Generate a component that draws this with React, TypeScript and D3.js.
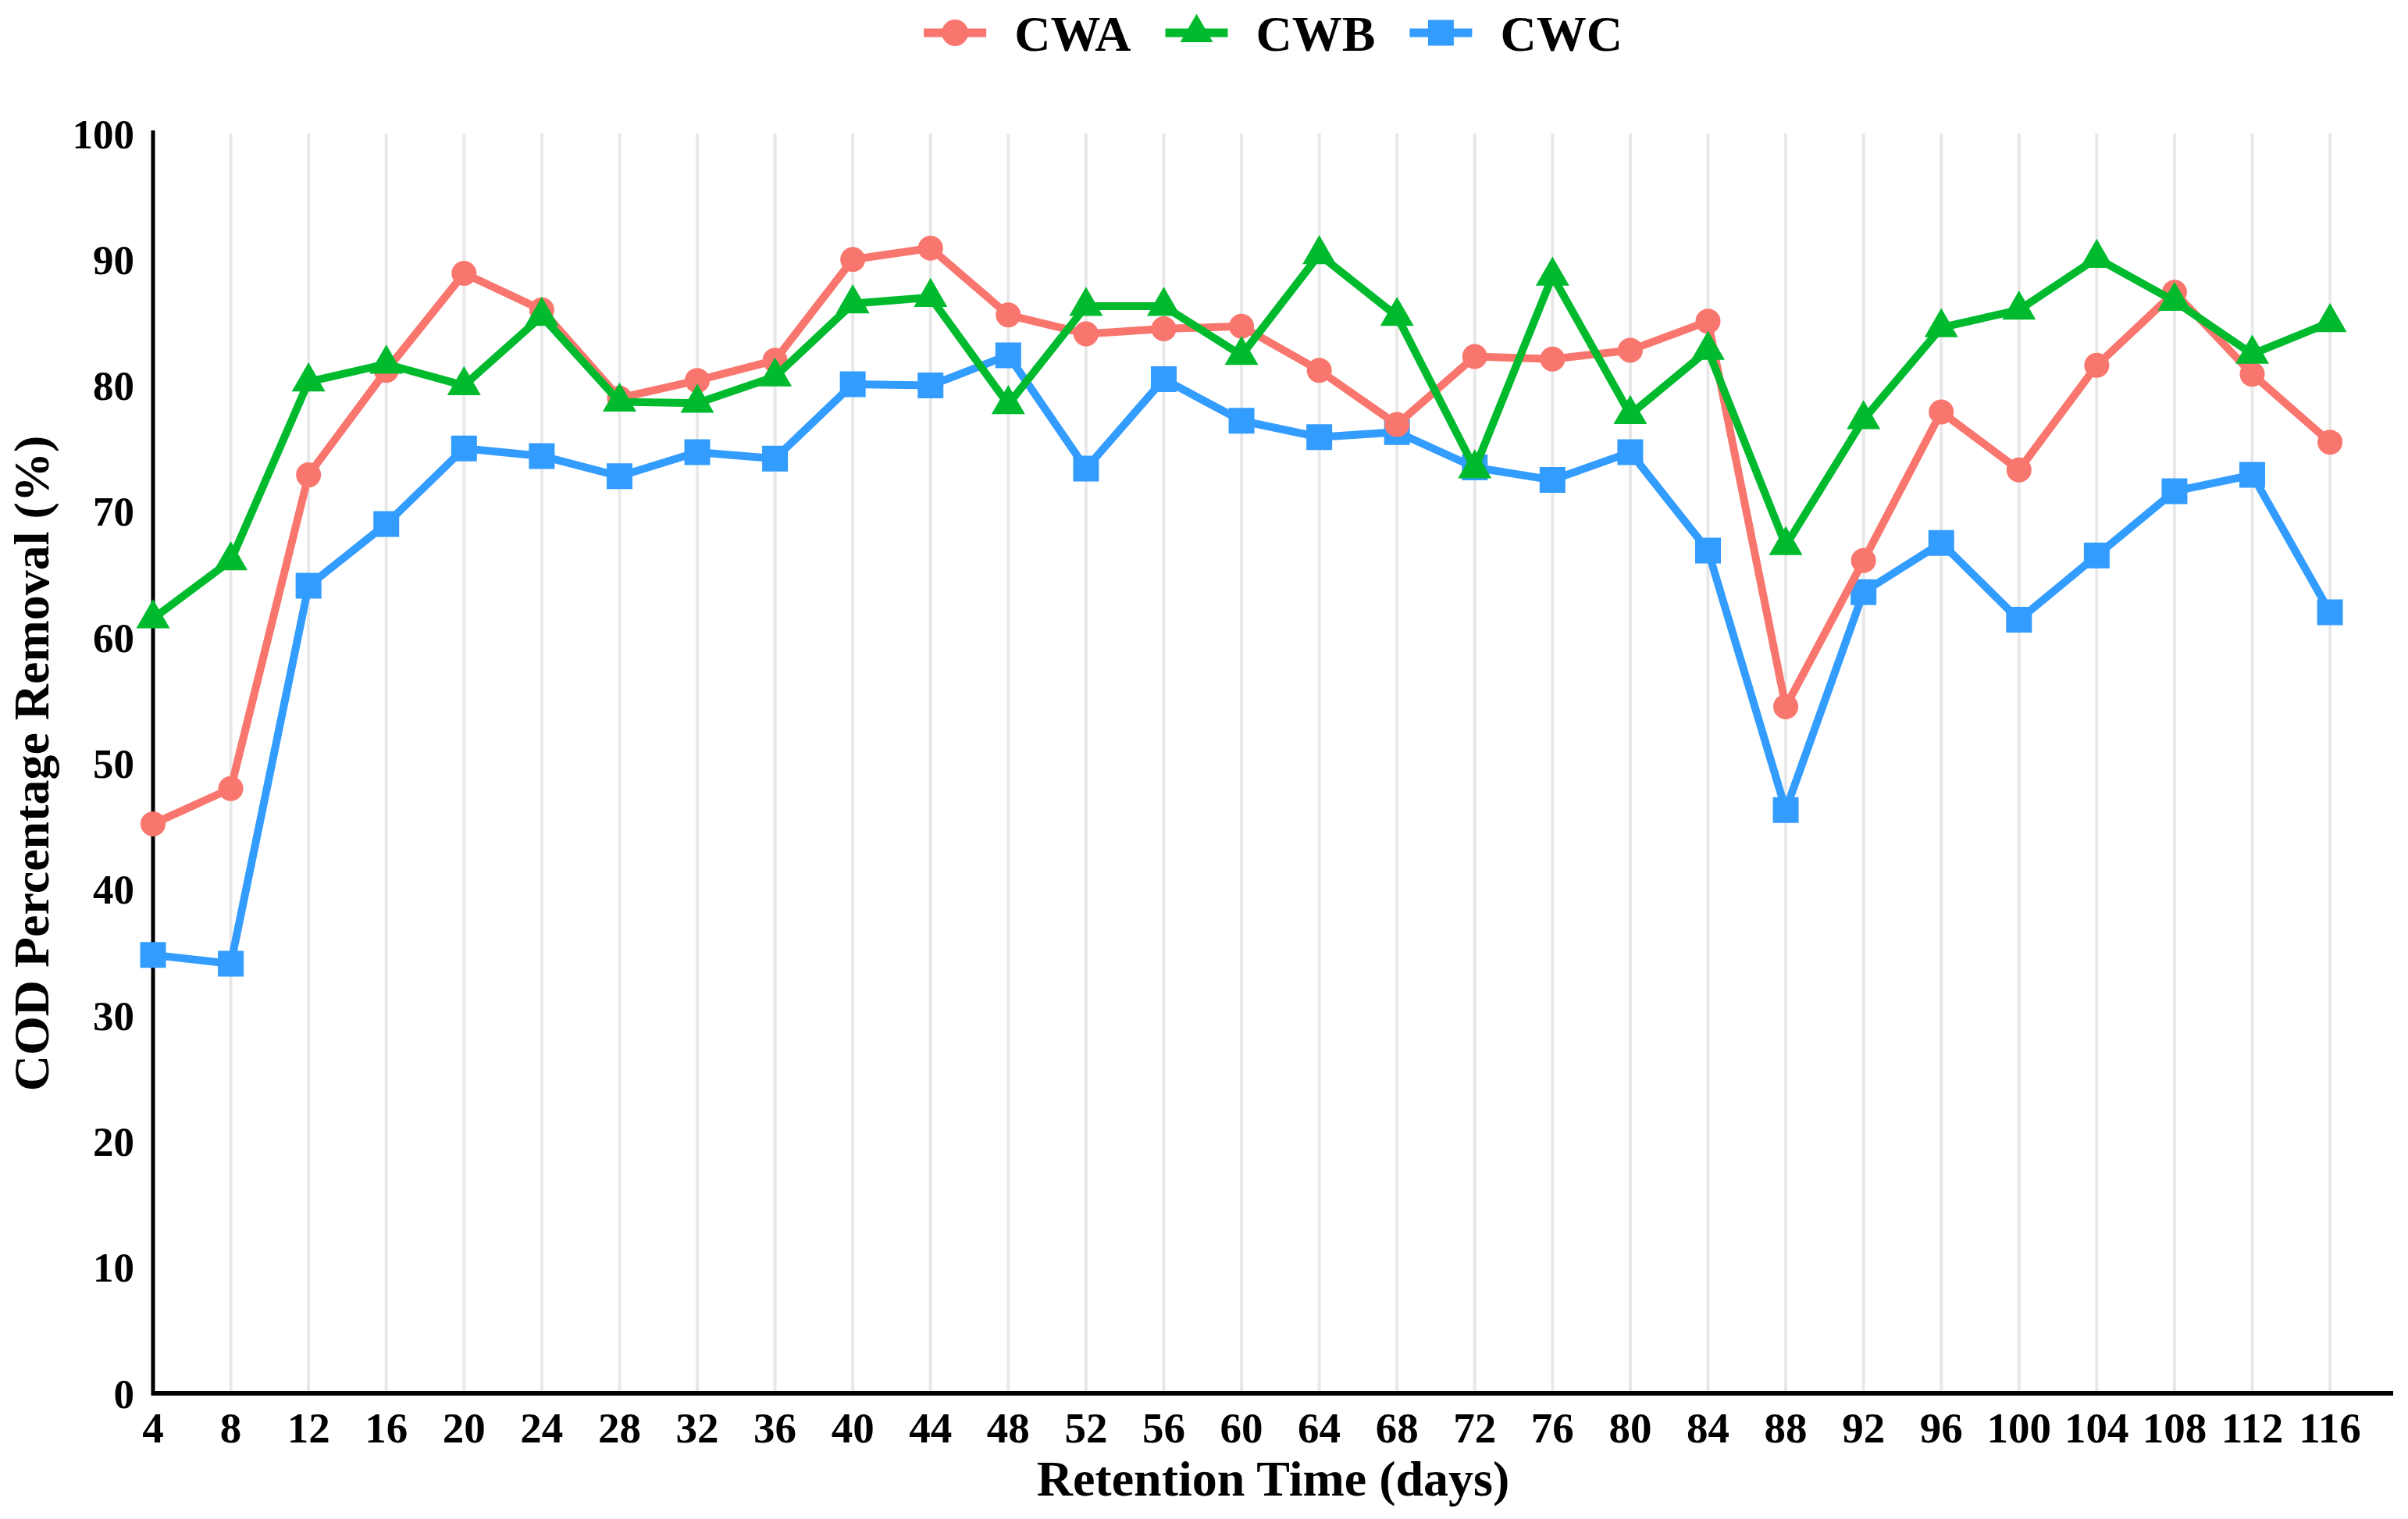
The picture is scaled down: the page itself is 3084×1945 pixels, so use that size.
import { useRef, useEffect } from 'react'
import * as d3 from 'd3'

// Retention time (days) and COD removal (%) for the three wetlands
const days = [4, 8, 12, 16, 20, 24, 28, 32, 36, 40, 44, 48, 52, 56, 60, 64, 68, 72, 76, 80, 84, 88, 92, 96, 100, 104, 108, 112, 116]
const cwa = [45.2, 48.0, 72.9, 81.2, 88.9, 86.0, 79.0, 80.4, 82.0, 90.0, 90.9, 85.6, 84.1, 84.5, 84.7, 81.2, 76.9, 82.3, 82.1, 82.8, 85.1, 54.5, 66.1, 77.9, 73.3, 81.6, 87.4, 80.9, 75.5]
const cwb = [61.5, 66.1, 80.3, 81.7, 80.0, 85.5, 78.7, 78.6, 80.7, 86.5, 87.0, 78.5, 86.3, 86.3, 82.4, 90.4, 85.5, 73.4, 88.7, 77.7, 82.8, 67.3, 77.3, 84.6, 86.0, 90.1, 86.7, 82.5, 85.0]
const cwc = [34.8, 34.1, 64.1, 69.0, 75.0, 74.4, 72.8, 74.7, 74.2, 80.1, 80.0, 82.4, 73.4, 80.5, 77.2, 75.9, 76.3, 73.5, 72.5, 74.7, 66.9, 46.3, 63.6, 67.5, 61.4, 66.5, 71.6, 72.9, 62.0]
const yTicks = [0, 10, 20, 30, 40, 50, 60, 70, 80, 90, 100]

const seriesNames = ['CWA', 'CWB', 'CWC']
const seriesColors = ['#F8766D', '#00BA2E', '#339CFF']
const seriesShapes = ['circle', 'triangle', 'square']

const W = 3084
const H = 1945
const FONT = '"Liberation Serif", "Times New Roman", serif'

export default function App() {
  const svgRef = useRef<SVGSVGElement>(null)

  useEffect(() => {
    if (!svgRef.current) return
    document.body.style.margin = '0'

    const svg = d3.select(svgRef.current)
    svg.selectAll('*').remove()

    const left = 196
    const right = 3065
    const top = 171
    const bottom = 1784

    // axis runs a bit past the last day
    const x = d3.scaleLinear().domain([4, 119.25]).range([left, right])
    const y = d3.scaleLinear().domain([0, 100]).range([bottom, top])

    svg.append('rect').attr('width', W).attr('height', H).attr('fill', '#fff')

    // vertical grid
    svg.append('g')
      .selectAll('line')
      .data(days)
      .enter()
      .append('line')
      .attr('x1', d => x(d))
      .attr('x2', d => x(d))
      .attr('y1', y(100))
      .attr('y2', y(0))
      .attr('stroke', '#E8E8E8')
      .attr('stroke-width', 4)

    // axes lines
    svg.append('line')
      .attr('x1', x(4)).attr('x2', x(4))
      .attr('y1', y(100) - 4).attr('y2', y(0) + 3)
      .attr('stroke', '#000').attr('stroke-width', 5)
    svg.append('line')
      .attr('x1', x(4) - 2).attr('x2', right)
      .attr('y1', y(0)).attr('y2', y(0))
      .attr('stroke', '#000').attr('stroke-width', 6)

    // y tick labels
    svg.append('g')
      .selectAll('text')
      .data(yTicks)
      .enter()
      .append('text')
      .attr('x', left - 24)
      .attr('y', d => y(d))
      .attr('dy', '0.35em')
      .attr('text-anchor', 'end')
      .style('font-family', FONT)
      .style('font-weight', 'bold')
      .style('font-size', '53px')
      .text(d => d)

    // x tick labels
    svg.append('g')
      .selectAll('text')
      .data(days)
      .enter()
      .append('text')
      .attr('x', d => x(d))
      .attr('y', bottom + 63)
      .attr('text-anchor', 'middle')
      .style('font-family', FONT)
      .style('font-weight', 'bold')
      .style('font-size', '55px')
      .text(d => d)

    // axis titles
    svg.append('text')
      .attr('x', (left + right) / 2)
      .attr('y', 1915)
      .attr('text-anchor', 'middle')
      .style('font-family', FONT)
      .style('font-weight', 'bold')
      .style('font-size', '64px')
      .text('Retention Time (days)')

    svg.append('text')
      .attr('transform', `translate(40,${(top + bottom) / 2}) rotate(-90)`)
      .attr('dy', '0.35em')
      .attr('text-anchor', 'middle')
      .style('font-family', FONT)
      .style('font-weight', 'bold')
      .style('font-size', '64px')
      .text('COD Percentage Removal (%)')

    const symbolFor = (shape: string) => {
      if (shape === 'circle') return d3.symbol().type(d3.symbolCircle).size(Math.PI * 16 * 16)
      if (shape === 'triangle') return d3.symbol().type(d3.symbolTriangle).size((Math.sqrt(3) / 4) * 43 * 43)
      return d3.symbol().type(d3.symbolSquare).size(33 * 33)
    }

    const line = d3.line<number>()
      .x((_, i) => x(days[i]))
      .y(d => y(d))

    const values = [cwa, cwb, cwc]
    // drawn bottom to top: CWC, CWA, CWB
    const order = [2, 0, 1]
    order.forEach(k => {
      const g = svg.append('g')
      g.append('path')
        .datum(values[k])
        .attr('d', line)
        .attr('fill', 'none')
        .attr('stroke', seriesColors[k])
        .attr('stroke-width', 10)
        .attr('stroke-linejoin', 'round')
      g.selectAll('path.pt')
        .data(values[k])
        .enter()
        .append('path')
        .attr('class', 'pt')
        .attr('transform', (d, i) => `translate(${x(days[i])},${y(d)})`)
        .attr('d', symbolFor(seriesShapes[k])())
        .attr('fill', seriesColors[k])
    })

    // legend
    const legend = svg.append('g')
    const lineLen = 80
    const textGap = 36
    const itemGap = 44
    let cursor = 0
    seriesNames.forEach((name, k) => {
      const item = legend.append('g')
      item.append('line')
        .attr('x1', 0).attr('x2', lineLen)
        .attr('y1', 42).attr('y2', 42)
        .attr('stroke', seriesColors[k])
        .attr('stroke-width', 11)
      const sym = seriesShapes[k] === 'circle'
        ? d3.symbol().type(d3.symbolCircle).size(Math.PI * 17 * 17)
        : seriesShapes[k] === 'triangle'
          ? d3.symbol().type(d3.symbolTriangle).size((Math.sqrt(3) / 4) * 42 * 42)
          : d3.symbol().type(d3.symbolSquare).size(33 * 33)
      item.append('path')
        .attr('transform', `translate(${lineLen / 2},42)`)
        .attr('d', sym())
        .attr('fill', seriesColors[k])
      const t = item.append('text')
        .attr('x', lineLen + textGap)
        .attr('y', 65)
        .style('font-family', FONT)
        .style('font-weight', 'bold')
        .style('font-size', '64px')
        .text(name)
      const tw = (t.node() as SVGTextElement).getComputedTextLength()
      item.attr('transform', `translate(${cursor},0)`)
      cursor += lineLen + textGap + tw + itemGap
    })
    const total = cursor - itemGap
    legend.attr('transform', `translate(${(left + right) / 2 - total / 2},0)`)
  }, [])

  return (
    <svg
      ref={svgRef}
      width={W}
      height={H}
      style={{ display: 'block' }}
    />
  )
}
